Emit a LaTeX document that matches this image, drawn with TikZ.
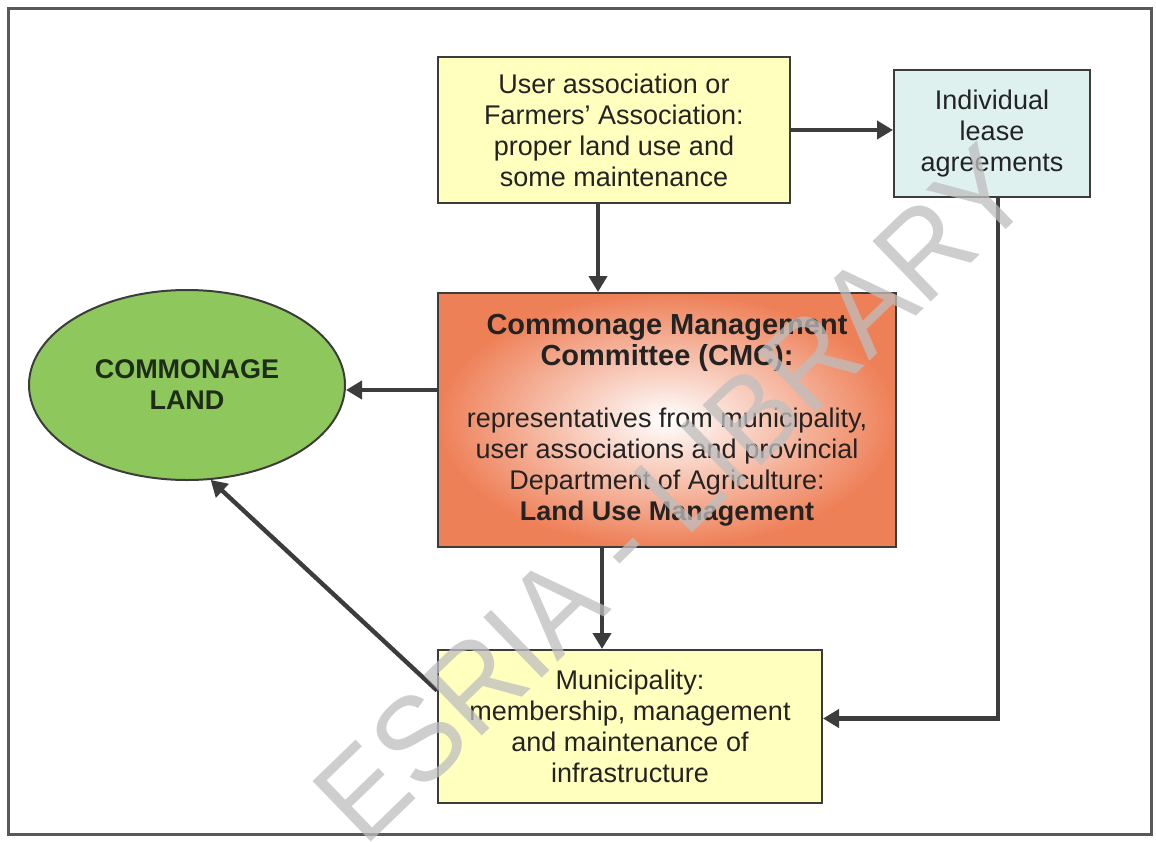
\documentclass[tikz,border=0pt]{standalone}
\usepackage{fontspec}
\setmainfont{Liberation Sans}
\usetikzlibrary{arrows.meta,shapes.geometric}
\definecolor{paleyellow}{RGB}{255,255,190}
\definecolor{paleblue}{RGB}{222,241,239}
\definecolor{landgreen}{RGB}{142,200,92}
\definecolor{cmcorange}{RGB}{238,128,88}
\definecolor{linegray}{RGB}{60,60,60}
\definecolor{inkgray}{RGB}{35,35,35}
\definecolor{markgray}{RGB}{190,190,190}
\newcommand{\cmchead}[1]{{\fontsize{14.5}{15.5}\selectfont\bfseries #1}}

\begin{document}
\begin{tikzpicture}
        [x=0.5pt,y=-0.5pt,
         box/.style={rectangle,draw=linegray,line width=1pt,text=inkgray,align=center,inner sep=2pt,font=\fontsize{13.5}{15.5}\selectfont},
         flow/.style={draw=linegray,line width=2.2pt,-{Triangle[length=8pt,width=9pt]}}]
        \useasboundingbox (0,0) rectangle (1156,841);
        \draw[linegray!85,line width=1.5pt] (8,8) rectangle (1151,834);
        \path node (assoc) at (614,130) [box,fill=paleyellow,minimum width=176pt,minimum height=73pt]
                {User association or\\Farmers' Association:\\proper land use and\\some maintenance}
              node (lease) at (992,133.5) [box,fill=paleblue,minimum width=98pt,minimum height=63.5pt]
                {Individual\\lease\\agreements}
              node (cmc) at (667,420) [box,inner color=white,outer color=cmcorange,minimum width=229pt,minimum height=127pt]
                {\cmchead{Commonage Management}\\\cmchead{Committee (CMC):}\\[15.5pt]
                 representatives from municipality,\\user associations and provincial\\Department of Agriculture:\\
                 \textbf{Land Use Management}}
              node (land) at (187,385) [ellipse,draw=linegray,line width=1pt,fill=landgreen,text={rgb,255:red,30;green,45;blue,25},
                align=center,font=\fontsize{13.5}{15.5}\selectfont\bfseries,minimum width=158pt,minimum height=95pt,inner sep=0pt]
                {COMMONAGE\\LAND}
              node (muni) at (630,726.5) [box,fill=paleyellow,minimum width=192pt,minimum height=76.5pt]
                {Municipality:\\membership, management\\and maintenance of\\infrastructure};
        \draw[flow] ([xshift=-8pt]assoc.south) -- ([xshift=-8pt]assoc.south |- cmc.north);
        \draw[flow] (assoc.east) -- (assoc.east -| lease.west);
        \draw[flow] ([yshift=15pt]cmc.west) -- ([yshift=15pt]cmc.west -| land.east);
        \draw[flow] ([xshift=-32.5pt]cmc.south) -- ([xshift=-32.5pt]cmc.south |- muni.north);
        \draw[flow] ([xshift=3pt]lease.south) |- ([yshift=4pt]muni.east);
        \draw[flow] ([yshift=18pt]muni.west) -- (land.-76);
        \node (mark) at (672,494) [rotate=44,xscale=0.94,text=markgray,text opacity=0.75,font=\fontsize{61}{62}\selectfont]
                {ESRIA - LIBRARY};
\end{tikzpicture}
\end{document}
